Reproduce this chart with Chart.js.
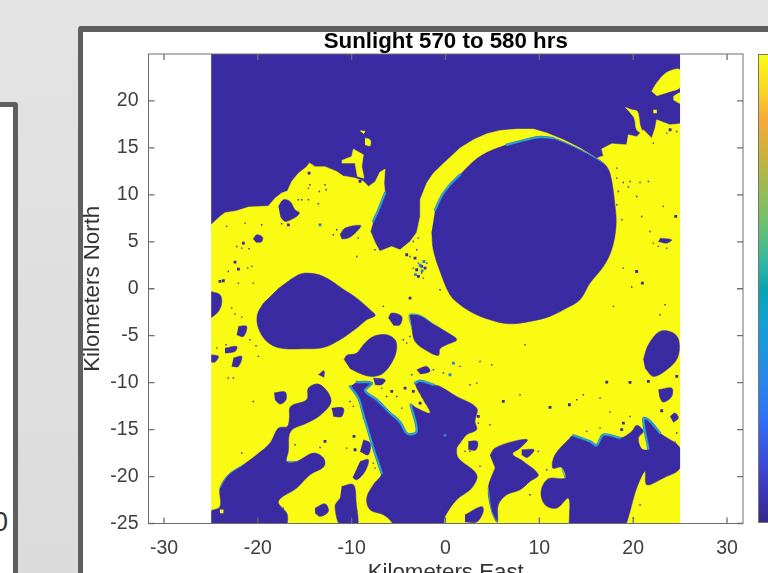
<!DOCTYPE html>
<html>
<head>
<meta charset="utf-8">
<title>Sunlight 570 to 580 hrs</title>
<script src="https://cdn.jsdelivr.net/npm/chart.js@4"></script>
<style>
    html, body { margin: 0; height: 100%; overflow: hidden; }
    body { background: linear-gradient(#e4e4e4, #dbdbdb); position: relative; width: 768px; height: 573px; font-family: "Liberation Sans", Arial, sans-serif; }
    .panel { position: absolute; background: #fff; border: 5px solid #5f5f5f; border-radius: 3px; box-sizing: border-box; }
    #leftPanel { left: -40px; top: 102px; width: 58px; height: 600px; overflow: hidden; }
    #leftPanel span { position: absolute; right: 5px; top: 400px; font-size: 27px; line-height: 30px; color: #333; }
    #mainPanel { left: 78px; top: 26px; width: 800px; height: 700px; border-width: 6px 5px; }
    #colorbar { position: absolute; left: 758px; top: 54px; width: 20px; height: 469px; box-sizing: border-box; border: 1px solid #77776a;
        background: linear-gradient(#f9fb15, #f8d828 7%, #f5a93a 14%, #c4b43e 22%, #6fbf6f 36%, #35b8a0 44%, #0aa5b0 50%, #12a0d5 58%, #2a8ae8 68%, #3070f5 78%, #3f48d8 88%, #3a30a8 96%, #352a87); }
    canvas { position: absolute; left: 0; top: 0; }
</style>
</head>
<body>
<div class="panel" id="leftPanel"><span>0</span></div>
<div class="panel" id="mainPanel"></div>
<div id="colorbar"></div>
<canvas id="sunChart" width="768" height="600"></canvas>
<script>
// Tick values on both axes (km)
const xTicks = [-30, -20, -10, 0, 10, 20, 30];
const yTicks = [-25, -20, -15, -10, -5, 0, 5, 10, 15, 20];

const imageExtent = [[-25, -25], [25, -25], [25, 25], [-25, 25]];
const marginWest = [[-32, -25], [-25, -25], [-25, 25], [-32, 25]];
const marginEast = [[25, -25], [32, -25], [32, 25], [25, 25]];

// Lit ground as [km east, km north]
const litGround = [[-25, 6.8], [-24.03, 7.7], [-23.5, 8.1], [-22.25, 8.3], [-21, 8.7], [-19.94, 8.75], [-18.88, 8.8], [-18.17, 9.65], [-17.46, 10.2], [-16.85, 10.4], [-16.39, 11.43], [-15.68, 12.3], [-14.79, 13], [-14.5, 13.4], [-13.9, 13], [-12.84, 13], [-11.6, 12.5], [-10.9, 12], [-9.64, 11.8], [-8.75, 11.45], [-8.2, 10.9], [-7.5, 11.4], [-7, 12.4], [-6.44, 12.75], [-6.55, 11.25], [-6.44, 10.2], [-7.15, 8.4], [-7.7, 7.2], [-8, 6.1], [-7.5, 4.9], [-7, 4], [-5.75, 4.5], [-4.85, 4.15], [-3.8, 5], [-3.07, 6], [-2.7, 7.7], [-2.7, 9.5], [-2, 11.25], [-1.3, 12.3], [-0.59, 13], [1.55, 14.98], [2.97, 15.87], [4.39, 16.5], [5.81, 16.86], [7.6, 17], [9.36, 17], [10.78, 16.6], [12.56, 15.87], [14.33, 14.98], [16.1, 13.9], [16.82, 14.16], [16.64, 14.87], [17.71, 15.44], [19.3, 15.33], [19.48, 16.4], [20.37, 16.2], [21.08, 16.93], [21.97, 16.04], [22.33, 17.1], [22.5, 18], [23.9, 17.46], [25, 17.57], [25, -25], [-25, -25]];
const litIslandEast = [[21.97, 21], [22.5, 21.9], [23.57, 23.04], [25, 23.32], [25, 21.47], [23.93, 21.01], [22.5, 20.55]];
const litIslandEdge = [[24.28, 20.48], [25, 20.84], [25, 19.77], [24.28, 20.12]];
const litStreak = [[19.13, 19.34], [19.84, 19.06], [20.45, 18.88], [20.73, 17.46], [20.98, 16.58], [20.37, 16.93], [20.12, 18.17], [19.66, 18.78]];
const litIslandNorth = [[-11.06, 13.66], [-10, 14.09], [-9.82, 14.87], [-8.75, 14.27], [-8.93, 13.03], [-8.68, 11.78], [-9.39, 11.96], [-9.64, 13.38], [-11.06, 13.38]];
const litPatchA = [[-8.58, 16.04], [-8.04, 15.87], [-8.04, 15.23], [-8.58, 15.33]];
const litPatchB = [[-9.11, 16.82], [-8.58, 16.75], [-8.75, 16.5]];

// Shadowed areas
const mainCrater = [[-1.47, 6.1], [-1.3, 4.15], [-0.58, 1.85], [0.48, -0.64], [1.55, -1.7], [2.97, -2.6], [4.74, -3.3], [6.7, -3.73], [9, -3.48], [11.1, -2.95], [12.9, -2.06], [14.33, -1.17], [15.4, 0.6], [16.82, 2.37], [17.7, 4.15], [18.17, 6.64], [18.07, 8.77], [17.53, 12.3], [16.82, 13.4], [15.05, 14.45], [13.27, 15.33], [11.5, 16.04], [10.07, 16.15], [8.3, 15.8], [6.52, 15.33], [4.39, 14.5], [2.97, 13.56], [1.55, 12.14], [0.48, 11.07], [-0.4, 9.9], [-1.1, 8.4]];
const westLake = [[-17.9, -0.04], [-15.86, 1.38], [-14.8, 1.67], [-13, 1.31], [-10.9, -0.04], [-9.46, -1], [-8.04, -2.24], [-7.5, -2.84], [-8.4, -3.3], [-9.46, -4.19], [-11.24, -5.43], [-13, -6.25], [-15.15, -6.39], [-17.63, -6.32], [-19.05, -5.61], [-19.94, -4.19], [-20.05, -2.77], [-19.41, -1.53]];
const westEdgeBlob = [[-25, -0.28], [-24.03, -0.64], [-23.85, -1.53], [-24.2, -2.41], [-25, -3.12]];
const centralBlob = [[-10.81, -7.56], [-10.53, -7.1], [-9.46, -6.85], [-8.75, -5.96], [-7.69, -5.08], [-6.27, -4.9], [-5.38, -5.43], [-5.2, -6.32], [-5.56, -7.56], [-6.62, -8.98], [-7.69, -9.34], [-8.75, -9.16], [-10.17, -8.52]];
const smallCentralBlob = [[-6.09, -3.12], [-5.73, -2.59], [-4.67, -2.95], [-4.85, -3.83], [-5.56, -3.9]];
const triangleBlob = [[-3.85, -2.77], [-2.71, -2.84], [-1.29, -3.76], [0.3, -4.72], [1.19, -5.43], [0.12, -5.96], [-0.59, -6.4], [-0.76, -7.1], [-2, -6.6], [-3.25, -5.61], [-3.6, -4.19]];
const wedgeBasin = [[-10.17, -10.4], [-9.29, -11.64], [-8.75, -13.42], [-8.22, -15.19], [-7.69, -16.97], [-6.8, -19.63], [-7.69, -20.87], [-8.4, -22.29], [-8.04, -23.54], [-6.62, -24.07], [-5.73, -24.85], [-5.56, -25.5], [-0.41, -25.5], [-0.05, -24.25], [1.19, -22.47], [2.79, -21.23], [3.32, -19.8], [1.37, -18.03], [1.19, -17.04], [1.55, -16.44], [2.26, -15.55], [3.32, -15], [3.14, -14.13], [3.32, -12.71], [1.19, -11.47], [-0.59, -10.4], [-1.29, -10.22], [-2.71, -9.8], [-3.25, -10.05], [-2.36, -11.82], [-1.65, -13.24], [-3.07, -12.71], [-3.71, -12.35], [-3.07, -15.19], [-4.06, -15.44], [-4.85, -14.2], [-5.91, -13.24], [-7.33, -11.82], [-8.58, -10.86], [-7.87, -10.05], [-9.46, -9.94]];
const southWestBasin = [[-25, -23.64], [-24.03, -23.18], [-24.03, -21.23], [-23.14, -19.81], [-21.54, -18.74], [-20.12, -17.68], [-18.7, -16.44], [-17.81, -14.84], [-16.85, -14.66], [-16.64, -13.77], [-16.5, -12.53], [-14.79, -11.82], [-14.61, -10.58], [-13.55, -10.15], [-12.48, -11.11], [-12.23, -12.18], [-13.37, -13.49], [-14.79, -14.31], [-16.5, -15.19], [-16.75, -17.32], [-16.92, -18.39], [-15.86, -18.39], [-14.08, -17.5], [-13, -18.03], [-12.95, -18.92], [-14.44, -19.81], [-15.86, -21.23], [-17.81, -22.65], [-16.85, -24.07], [-17.28, -25.5], [-25, -25.5]];
const southEastBasin = [[19.13, -25.5], [19.66, -23.71], [20.37, -21.23], [21.26, -19.45], [21.44, -20.87], [23.21, -20.16], [25, -19.1], [25, -16.97], [22.86, -15.37], [21.62, -13.95], [21.08, -13.84], [21.62, -17.04], [20.9, -17.04], [20.55, -15.9], [21.08, -15.19], [20.37, -14.55], [19.84, -15.19], [18.6, -15.9], [16.82, -15.55], [16.11, -16.68], [15.4, -16.26], [13.62, -15.62], [13.09, -16.08], [11.67, -17.68], [11.42, -19.1], [12.38, -19.03], [12.74, -20.16], [10.96, -20.23], [10.18, -21.58], [10.6, -23], [11.85, -23.36], [13.09, -22.3], [13.2, -24.42], [13.09, -25.5]];
const southMiddleBasin = [[4.74, -17.75], [5.28, -16.97], [7.23, -16.26], [8.72, -16.08], [7.94, -16.97], [7.16, -17.61], [8.3, -18.39], [9.89, -19.81], [9, -20.52], [7.94, -21.41], [6.52, -21.94], [5.63, -23], [5.52, -24.85], [4.92, -23.71], [4.56, -21.23], [5.28, -19.1]];
const eastOval = [[21.08, -7.56], [21.62, -5.96], [22.86, -4.54], [24.28, -4.72], [24.88, -5.61], [24.71, -7.38], [23.57, -8.63], [22.15, -9.34], [21.26, -8.45]];
const otherBlobs = [
    [[-17.8, 8.76], [-17.28, 9.48], [-16.57, 9.3], [-16.04, 8.4], [-15.57, 8.05], [-16.2, 7.5], [-17.1, 7.17], [-17.6, 7.7]],
    [[-11.24, 5.75], [-10.7, 6.46], [-9.04, 6.74], [-9.46, 6.1], [-10.35, 5.4], [-11.06, 5.3]],
    [[-20.5, 5.3], [-20.1, 5.75], [-19.5, 5.5], [-19.6, 5], [-20.2, 4.95]],
    [[-18.27, -11.1], [-17.1, -11], [-17, -11.82], [-17.63, -12.28], [-18.17, -11.82]],
    [[-13.9, -23.36], [-12.84, -22.9], [-12.48, -23.71], [-13.37, -24.25], [-13.9, -23.89]],
    [[-11.06, -21.05], [-9.82, -20.87], [-9.53, -22.65], [-9.46, -25.5], [-11.06, -25.5], [-11.77, -23.18], [-11.24, -22.3]],
    [[-9.11, -18.39], [-8.22, -18.2], [-8.58, -19.45], [-9.46, -20.34], [-9.89, -20.1]],
    [[-8.75, -16.08], [-8.04, -16.44], [-8.22, -17.68], [-9.11, -17.32]],
    [[-22.07, -4.01], [-21.19, -4.01], [-21.54, -5.08], [-22.25, -4.9]],
    [[-23.5, -6.32], [-22.25, -6.14], [-22.43, -6.67], [-23.5, -6.85]],
    [[-22.6, -7.38], [-21.72, -7.2], [-22.07, -8.27], [-22.79, -8.27]],
    [[-25, -7.03], [-24.2, -7.2], [-24.56, -7.8], [-25, -7.8]],
    [[-12.13, -12.71], [-10.9, -12.71], [-11.06, -13.6], [-11.95, -13.6]],
    [[-13.55, -9.16], [-12.95, -8.73], [-12.95, -9.44]],
    [[-3.07, -8.63], [-2, -8.27], [-1.65, -8.8], [-2.71, -9.09]],
    [[-7.69, -9.51], [-6.44, -9.69], [-6.8, -10.22], [-7.51, -10.22]],
    [[22.68, -10.76], [24.1, -10.58], [24.1, -11.47], [23.2, -12.07], [22.79, -11.47]],
    [[23.93, -13.6], [24.46, -13.24], [24.81, -13.77], [24.28, -14.24]],
    [[8.12, -17.15], [9.43, -17.15], [8.72, -17.96], [8.12, -17.68]],
    [[2.43, -16.26], [3.39, -16.26], [3.25, -17.15], [2.43, -17.15]],
    [[2.08, -24.07], [3.85, -23.18], [4.03, -23.71], [3.32, -24.85], [2.08, -24.85]],
    [[22.86, 5.39], [24.1, 5.22], [23.57, 4.86], [22.68, 5.03]]
];

// Gradual shadow edges (partial sunlight)
const shadowEdges = [
    [[-1.1, 8.4], [-0.4, 9.9], [0.48, 11.07], [1.55, 12.14]],
    [[6.52, 15.33], [8.3, 15.8], [10.07, 16.15], [11.5, 16.04]],
    [[-6.44, 10.2], [-7.15, 8.4], [-7.7, 7.2]],
    [[-10.17, -10.4], [-9.29, -11.64], [-8.75, -13.42], [-8.22, -15.19], [-7.69, -16.97], [-6.8, -19.63]],
    [[-9.46, -9.94], [-7.87, -10.05], [-8.58, -10.86], [-7.33, -11.82], [-5.91, -13.24], [-4.85, -14.2], [-4.06, -15.44], [-3.07, -15.19], [-3.71, -12.35]],
    [[-3.25, -10.05], [-2.71, -9.8], [-1.29, -10.22]],
    [[13.62, -15.62], [15.4, -16.26], [16.11, -16.68], [16.82, -15.55], [18.6, -15.9]],
    [[21.62, -17.04], [21.08, -13.84], [21.62, -13.95], [22.86, -15.37]]
];
const faintEdges = [
    [[11.5, 16.04], [13.27, 15.33], [15.05, 14.45], [16.82, 13.4]],
    [[-3.6, -4.19], [-3.85, -2.77], [-2.71, -2.84], [-1.29, -3.76]],
    [[-24.03, -21.23], [-23.14, -19.81], [-21.54, -18.74]],
    [[-16.92, -18.39], [-15.86, -18.39]],
    [[4.56, -21.23], [4.92, -23.71], [5.52, -24.85]],
    [[12.38, -19.03], [12.74, -20.16]]
];

// Small craters
const craterSpecks = [[-14.54, 12.32], [-16.75, 6.81], [-22.43, 2.84], [-22.07, 2.09], [-21.54, 4.86], [-24.03, 0.78], [-23.67, 0.85], [-9.11, 11.43], [20.37, 1.84], [20.98, 0.6], [24.53, 7.7], [23.93, 16.93], [-9.75, -15.73], [-9.64, -17.15], [-12.84, -16.26], [-3.78, -1], [-4.31, -10.58], [-5.73, -10.93], [-3.43, -10.93], [-2.71, -12.18], [6.16, -12], [11.14, -12.64], [13.2, -12.35], [17.18, -9.94], [19.66, -9.97], [21.62, -9.87], [18.95, -14.31], [18.77, -15], [23.04, -12.99], [24.64, -9.34], [3.5, -13.6], [-3.07, 2.02], [-2.54, 2.38], [-2.89, 1.31], [-2.18, 2.2], [-3.25, 3.26], [-4.14, 3.62]];
const tinySpecks = [[-21.72, 4.33], [-20.94, 4.26], [-21.08, 2.2], [-20.65, 2.38], [-14.44, 11.07], [-14.61, 10.72], [-13.44, 10.36], [-12.84, 11.07], [-12.73, 10.54], [-15.32, 9.48], [-14.61, 9.48], [-15.68, 9.48], [-13.55, 9.05], [-23.32, 6.64], [-21.36, 6.99], [-19.59, 6.81], [-17.46, 6.92], [-22.25, 4.5], [-9.46, 3.44], [-11.6, 6.28], [-11.95, 5.75], [-7.51, 4.15], [-23.14, 1.84], [-22.07, 0.6], [-20.48, 0.6], [-9.29, 5.39], [-3.43, 5.04], [-2.9, 5.39], [-3.78, 3.44], [-3.07, 4.15], [-2.89, 2.73], [-2.36, 1.13], [-2, 2.73], [-2.54, 1.67], [-3.43, 2.2],
    [18.24, 11.78], [19.66, 11.43], [20.73, 11.32], [21.62, 11.43], [19.49, 10.83], [18.95, 11.32], [20.37, 9.83], [18.42, 10.36], [18.24, 8.94], [18.8, 7.35], [20.91, 7.7], [22.15, 4.86], [22.68, 4.51], [23.57, 4.33], [21.8, 6.1], [23.21, 8.77], [22.15, 15.51], [23.57, 16.57], [24.64, 16.75], [18.24, 12.85], [18.95, 2.2], [19.84, 0.18],
    [-22.79, -2.06], [-22.43, -2.7], [-21.72, -3.02], [-20.83, -5.43], [-20.19, -6.07], [-19.94, -7.2], [-23.14, -9.51], [-22.6, -9.51], [-20.48, -12], [-21.72, -17.5], [-24.38, -6.32], [-23.39, -5.96], [-0.58, -0.11], [-6.62, -1.88], [-4.49, -5.43], [-3.78, -5.08], [-4.14, -5.79], [-9.82, -12.53], [-10.17, -12], [-8.75, -13.77], [-6.8, -10.58], [-6.27, -11.47], [-3.6, -9.16], [-4.67, -12.71], [-5.38, -13.6], [-5.2, -11.47], [-2.54, -11.47], [-1.29, -8.63], [-0.23, -8.98], [-10.53, -16.97], [-13.37, -16.9], [-16.04, -16.61], [-7.69, -18.57], [-7.51, -19.1], [-17.28, -23.36], [-16.39, -20.87],
    [22.86, -2.77], [23.39, -1.7], [17.89, -1.88], [8.47, -5.96], [7.94, -11.29], [16.47, -11.64], [14.69, -11.29], [13.98, -11.82], [17.53, -13.13], [19.66, -13.6], [24.64, -15.37], [24.46, -16.33], [2.61, -10.22], [3.32, -10.05], [1.55, -8.27], [3.68, -7.74], [4.92, -8.09], [3.5, -14.31], [4.74, -14.48], [2.61, -17.32], [2.08, -17.32], [3.68, -18.92], [10.78, -19.27], [9.89, -17.32], [16.47, -14.84], [15.04, -15.19], [20.73, -23], [20.02, -24.42], [9, -21.94]];
const tealSpecks = [[-13.37, 6.81], [0.84, -7.92], [0.48, -9.16], [-0.05, -15.62], [-2.7, 2.5], [-2.5, 1.9], [-3.2, 1.5], [-2.3, 2.9]];
const litSpecks = [[22.33, 18.88], [-23.85, -23.71]];

const SHADOW = '#3a2ba2';
const SUNLIT = '#f9fb12';

function toPoints(list) {
    return list.map(([x, y]) => ({ x, y }));
}

function area(list, color, tension = 0.35) {
    return {
        data: toPoints(list), fill: 'shape', backgroundColor: color, borderColor: color,
        borderWidth: 0.5, pointRadius: 0, tension
    };
}

function edge(list, color, width) {
    return {
        data: toPoints(list), fill: false, borderColor: color, borderWidth: width,
        pointRadius: 0, tension: 0.35, borderCapStyle: 'round', borderJoinStyle: 'round'
    };
}

function specks(list, color, radius) {
    return {
        data: toPoints(list), showLine: false, pointStyle: 'rect', pointRadius: radius,
        pointBorderWidth: 0, pointBackgroundColor: color
    };
}

// Listed in paint order, bottom layer first
const layers = [
    area(imageExtent, SHADOW, 0),
    area(litGround, SUNLIT, 0),
    area(litIslandEast, SUNLIT),
    area(litIslandEdge, SUNLIT),
    area(litStreak, SUNLIT),
    area(litIslandNorth, SUNLIT, 0),
    area(litPatchA, SUNLIT),
    area(litPatchB, SUNLIT),
    area(mainCrater, SHADOW),
    area(westLake, SHADOW),
    area(westEdgeBlob, SHADOW),
    area(centralBlob, SHADOW),
    area(smallCentralBlob, SHADOW),
    area(triangleBlob, SHADOW),
    area(wedgeBasin, SHADOW),
    area(southWestBasin, SHADOW),
    area(southEastBasin, SHADOW),
    area(southMiddleBasin, SHADOW),
    area(eastOval, SHADOW),
    ...otherBlobs.map(b => area(b, SHADOW)),
    specks(craterSpecks, SHADOW, 2),
    specks(tinySpecks, SHADOW, 1),
    specks(tealSpecks, '#2a7fd8', 2),
    specks(litSpecks, SUNLIT, 2.5),
    ...shadowEdges.map(e => edge(e, '#2b80e0', 2.5)),
    ...shadowEdges.map(e => edge(e, '#2fbfa8', 1)),
    ...faintEdges.map(e => edge(e, '#3a9ad0', 1)),
    area(marginWest, '#fff', 0),
    area(marginEast, '#fff', 0)
];
layers.forEach((layer, i) => { layer.order = -i; });

// MATLAB style box with inward ticks on all four sides
const boxTicks = {
    id: 'boxTicks',
    afterDatasetsDraw(chart) {
        const { ctx, chartArea: a, scales: { x, y } } = chart;
        ctx.save();
        ctx.strokeStyle = '#6e6e6e';
        ctx.lineWidth = 1;
        ctx.strokeRect(a.left, a.top, a.right - a.left, a.bottom - a.top);
        ctx.lineWidth = 1.3;
        ctx.beginPath();
        xTicks.forEach(v => {
            const px = x.getPixelForValue(v);
            ctx.moveTo(px, a.bottom); ctx.lineTo(px, a.bottom - 6);
            ctx.moveTo(px, a.top); ctx.lineTo(px, a.top + 6);
        });
        yTicks.forEach(v => {
            const py = y.getPixelForValue(v);
            ctx.moveTo(a.left, py); ctx.lineTo(a.left + 6, py);
            ctx.moveTo(a.right, py); ctx.lineTo(a.right - 6, py);
        });
        ctx.stroke();
        ctx.restore();
    }
};

const FONT = '"Liberation Sans", Arial, sans-serif';

new Chart(document.getElementById('sunChart'), {
    type: 'line',
    data: { datasets: layers },
    plugins: [boxTicks],
    options: {
        responsive: false,
        animation: false,
        events: [],
        layout: { padding: { left: 79, right: 25, top: 0, bottom: 14 } },
        plugins: {
            legend: { display: false },
            tooltip: { enabled: false },
            title: {
                display: true,
                fullSize: false,
                text: 'Sunlight 570 to 580 hrs',
                color: '#000',
                font: { family: FONT, size: 22.3, weight: 'bold', lineHeight: 1 },
                padding: { top: 30.5, bottom: 1.2 }
            }
        },
        scales: {
            x: {
                type: 'linear',
                min: -31.65,
                max: 31.7,
                afterBuildTicks: s => { s.ticks = xTicks.map(value => ({ value })); },
                afterFit: s => { s.height = 62.5; },
                grid: { display: false, drawTicks: false, tickLength: 0 },
                border: { display: false },
                ticks: { autoSkip: false, maxRotation: 0, padding: 13, color: '#404040', font: { family: FONT, size: 19.5 }, callback: v => String(v) },
                title: { display: true, text: 'Kilometers East', color: '#333', padding: 0, font: { family: FONT, size: 22.3 } }
            },
            y: {
                type: 'linear',
                min: -25,
                max: 25,
                afterBuildTicks: s => { s.ticks = yTicks.map(value => ({ value })); },
                afterFit: s => { s.width = 69.5; },
                grid: { display: false, drawTicks: false, tickLength: 0 },
                border: { display: false },
                ticks: { autoSkip: false, padding: 10, color: '#404040', font: { family: FONT, size: 19.5 }, callback: v => String(v) },
                title: { display: true, text: 'Kilometers North', color: '#333', padding: 0, font: { family: FONT, size: 22.3 } }
            }
        }
    }
});
</script>
</body>
</html>
